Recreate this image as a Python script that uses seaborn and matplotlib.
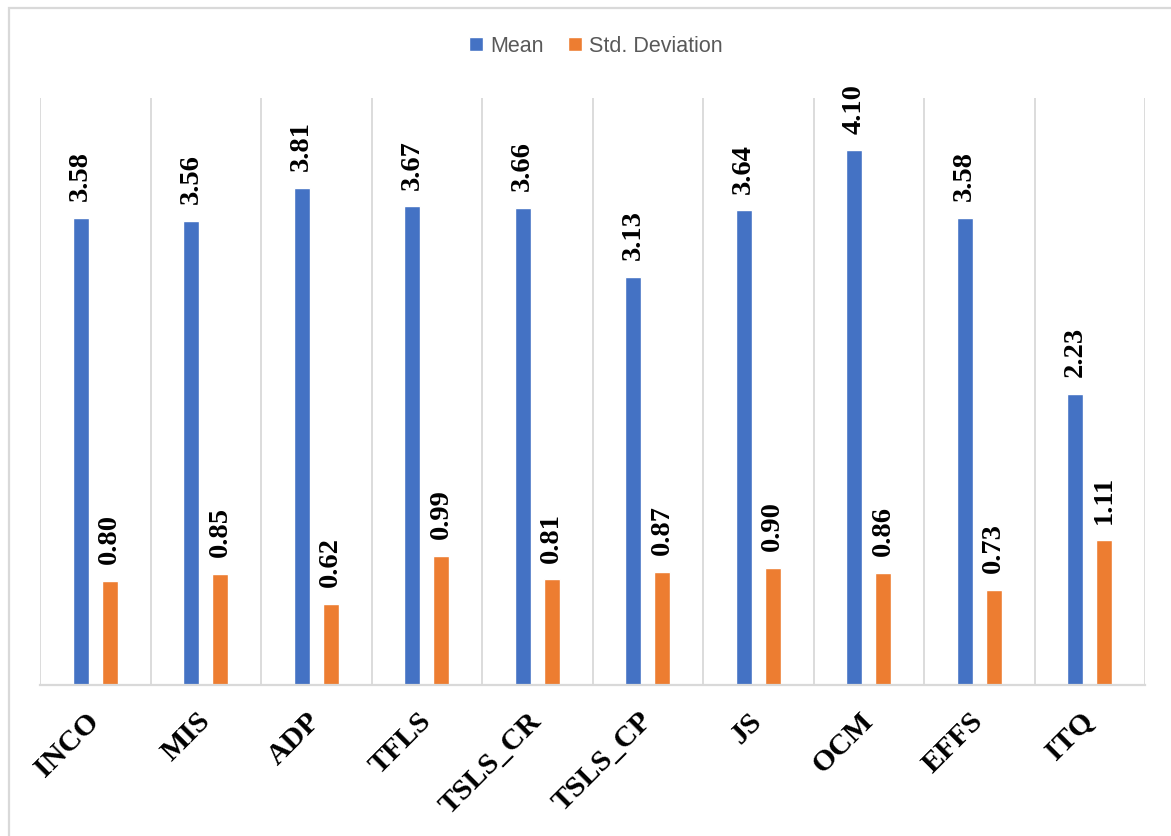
import matplotlib
matplotlib.use("Agg")
import matplotlib.pyplot as plt
from matplotlib.patches import Rectangle
from matplotlib.ticker import FixedLocator
import pandas as pd
import seaborn as sns

# Constructs and their descriptive statistics
constructs = ["INCO", "MIS", "ADP", "TFLS", "TSLS_CR", "TSLS_CP", "JS", "OCM", "EFFS", "ITQ"]
mean_values = [3.58, 3.56, 3.81, 3.67, 3.66, 3.13, 3.64, 4.10, 3.58, 2.23]
std_values = [0.80, 0.85, 0.62, 0.99, 0.81, 0.87, 0.90, 0.86, 0.73, 1.11]
series_names = ["Mean", "Std. Deviation"]
series_colors = ["#4472C4", "#ED7D31"]

df = pd.DataFrame({
    "construct": constructs * 2,
    "value": mean_values + std_values,
    "stat": [series_names[0]] * len(constructs) + [series_names[1]] * len(constructs),
})

sns.set_theme(style="white")
serif = ["Liberation Serif", "DejaVu Serif"]
grid_gray = "#D9D9D9"

fig = plt.figure(figsize=(11.71, 8.36), dpi=100)
ax = fig.add_axes([40 / 1171, 1 - 685 / 836, (1145 - 40) / 1171, (685 - 98) / 836])

sns.barplot(data=df, x="construct", y="value", hue="stat", order=constructs,
            hue_order=series_names, palette=series_colors, width=0.525, gap=0.45,
            saturation=1, legend=False, ax=ax)

ax.set_ylim(0, 4.5)
ax.set_xlim(-0.5, len(constructs) - 0.5)
ax.set_xlabel("")
ax.set_ylabel("")
ax.set_yticks([])

# Vertical separators between categories
ax.xaxis.set_minor_locator(FixedLocator([i - 0.5 for i in range(len(constructs) + 1)]))
ax.grid(True, which="minor", axis="x", color=grid_gray, linewidth=1.3)
ax.grid(False, which="major")
ax.tick_params(axis="x", which="both", length=0)
ax.tick_params(axis="x", which="major", pad=23)

for side in ["top", "left", "right"]:
    ax.spines[side].set_visible(False)
ax.spines["bottom"].set_color(grid_gray)
ax.spines["bottom"].set_linewidth(1.6)

for lbl in ax.get_xticklabels():
    lbl.set_rotation(45)
    lbl.set_ha("right")
    lbl.set_va("center")
    lbl.set_rotation_mode("anchor")
    lbl.set_fontfamily(serif)
    lbl.set_fontweight("bold")
    lbl.set_fontsize(21.5)
    lbl.set_color("black")

for cont in ax.containers:
    ax.bar_label(cont, fmt="%.2f", rotation=90, padding=12, fontsize=20.5,
                 fontweight="bold", family=serif, color="black")

fig.legend(ax.containers, series_names, loc="center", bbox_to_anchor=(596 / 1171, 1 - 46 / 836),
           ncol=2, frameon=False, labelcolor="#595959",
           handlelength=0.62, handleheight=0.62, handletextpad=0.35, columnspacing=1.15,
           prop={"family": ["Liberation Sans", "DejaVu Sans"], "size": 15.5})

# Light outline around the chart area
fig.patches.append(Rectangle((9 / 1171, -0.1), 1.2, 1.1 - 8 / 836, transform=fig.transFigure,
                             fill=False, edgecolor=grid_gray, linewidth=1.6))

fig.savefig("out.png", dpi=100)
